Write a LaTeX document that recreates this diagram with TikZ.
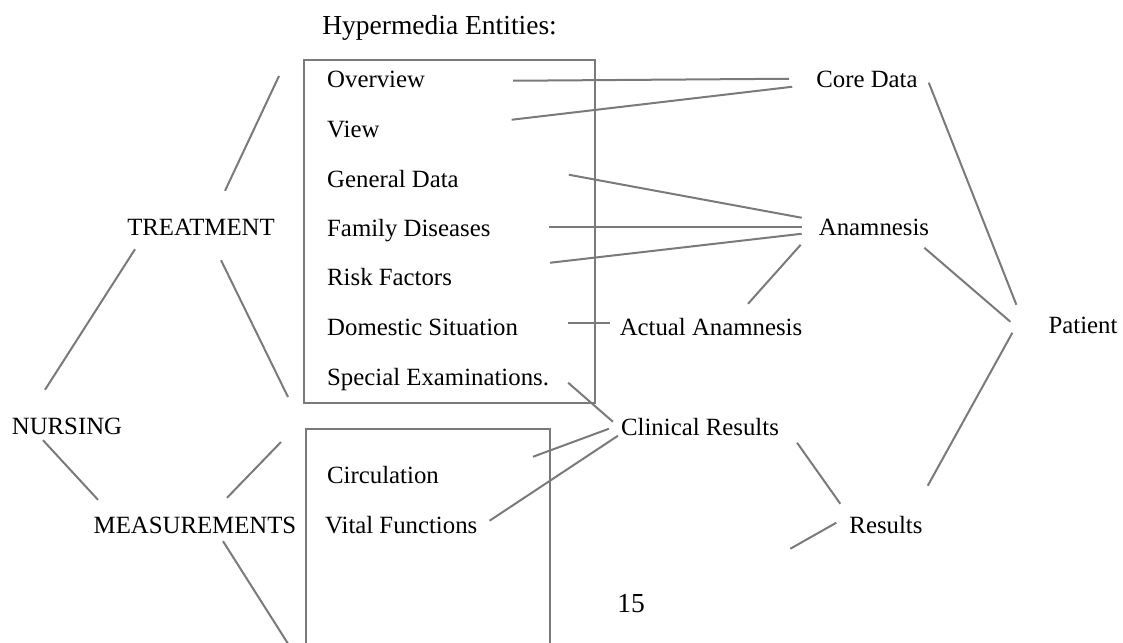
\documentclass[tikz,border=0pt]{standalone}
\usepackage{fontspec}
\setmainfont{Liberation Serif}
\definecolor{linegray}{RGB}{122,122,122}

\begin{document}
\begin{tikzpicture}[x=1pt, y=-1pt]

\tikzstyle{txt}=[inner sep=0pt, text height=16.5pt, text depth=0pt, font=\fontsize{24.8}{30}\selectfont]
\tikzstyle{entity}=[txt, anchor=base west]
\tikzstyle{topic}=[txt, anchor=base]
\tikzstyle{big}=[inner sep=0pt, font=\fontsize{27.5}{33}\selectfont]
\tikzstyle{entitybox}=[draw=linegray, line width=2pt, inner sep=0pt]
\tikzstyle{link}=[draw=linegray, line width=2pt]

\useasboundingbox (0,0) rectangle (1123,642);
\clip (0,0) rectangle (1123,642);

\node[big, anchor=base east] (title) at (557,35) {Hypermedia Entities:};

\node[entitybox, minimum width=291pt, minimum height=343pt] (entities) at (449.5,231.5) {};
\node[entitybox, minimum width=244pt, minimum height=271pt] (measures) at (428,564.5) {};

\node[entity] (overview) at (327,87) {Overview};
\node[entity] (view) at (327,137) {View};
\node[entity] (general) at (327,187) {General Data};
\node[entity] (family) at (327,236) {Family Diseases};
\node[entity] (risk) at (327,285) {Risk Factors};
\node[entity] (domestic) at (327,335) {Domestic Situation};
\node[entity] (special) at (327,385) {Special Examinations.};
\node[entity] (circulation) at (327,483) {Circulation};
\node[entity] (vital) at (325,533) {Vital Functions};

\node[topic] (treatment) at (201,235) {TREATMENT};
\node[topic] (nursing) at (67,434) {NURSING};
\node[topic] (measurements) at (195,533) {MEASUREMENTS};
\node[topic] (core) at (867,87) {Core Data};
\node[topic] (anamnesis) at (874,235) {Anamnesis};
\node[topic] (actual) at (711,335) {Actual Anamnesis};
\node[topic] (patient) at (1083,333) {Patient};
\node[topic] (clinical) at (700,435) {Clinical Results};
\node[topic] (results) at (886,533) {Results};
\node[big, anchor=base] (page) at (631,612) {15};

\draw[link] ([shift={(88,2)}]overview.east) -- ([shift={(-27,0)}]core.west);
\draw[link] ([shift={(132,-9)}]view.east) -- ([shift={(-24,8)}]core.west);
\draw[link] ([shift={(110,-4)}]general.east) -- ([shift={(-17,-9)}]anamnesis.west);
\draw[link] ([shift={(58,-1)}]family.east) -- ([shift={(-17,0)}]anamnesis.west);
\draw[link] ([shift={(98,-14)}]risk.east) -- ([shift={(-17,7)}]anamnesis.west);
\draw[link] ([shift={(50,-4)}]domestic.east) -- ([shift={(-10,-4)}]actual.west);
\draw[link] ([shift={(37,-14.5)}]actual.north) -- ([shift={(-18,18)}]anamnesis.west);
\draw[link] ([shift={(-5,21)}]anamnesis.east) -- ([shift={(-38,-3)}]patient.west);
\draw[link] ([shift={(11,4)}]core.east) -- ([shift={(-32,-20)}]patient.west);
\draw[link] ([shift={(-36,8)}]patient.west) -- ([shift={(5,-39)}]results.east);
\draw[link] ([shift={(18,16)}]clinical.east) -- ([shift={(-9,-21)}]results.west);
\draw[link] ([shift={(-13,-2)}]results.west) -- ([shift={(-59,24)}]results.west);
\draw[link] ([shift={(19,6)}]special.east) -- ([shift={(-8,-5)}]clinical.west);
\draw[link] ([shift={(-12,2)}]clinical.west) -- ([shift={(94,-18)}]circulation.east);
\draw[link] ([shift={(-3,9)}]clinical.west) -- ([shift={(12,-4)}]vital.east);

\draw[link] ([shift={(24,-27.5)}]treatment.north) -- ([shift={(-24,17)}]entities.north west);
\draw[link] ([shift={(-66,14)}]treatment.south) -- ([shift={(-22,-27.5)}]nursing.north);
\draw[link] ([shift={(20,25)}]treatment.south) -- ([shift={(-15,-7)}]entities.south west);
\draw[link] ([shift={(-24,6)}]nursing.south) -- ([shift={(-97,-16.5)}]measurements.north);
\draw[link] ([shift={(32,-18.5)}]measurements.north) -- ([shift={(-24,14)}]measures.north west);
\draw[link] ([shift={(28,8)}]measurements.south) -- ([shift={(-6,-40)}]measures.south west);

\end{tikzpicture}
\end{document}
